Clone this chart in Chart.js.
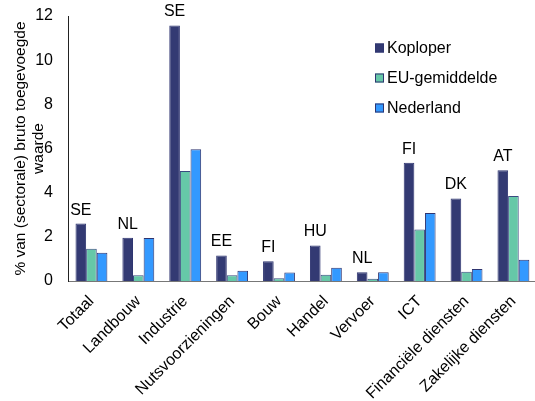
<!DOCTYPE html>
<html>
<head>
<meta charset="utf-8">
<script src="https://cdn.jsdelivr.net/npm/chart.js@4.4.1/dist/chart.umd.min.js"></script>
<style>
  html, body { margin: 0; padding: 0; background: #fff; overflow: hidden; }
  #wrap { width: 538px; height: 401px; }
</style>
</head>
<body>
<div id="wrap"><canvas id="chart" width="538" height="401"></canvas></div>
<script>
// sectors on the x axis
const categories = ["Totaal", "Landbouw", "Industrie", "Nutsvoorzieningen", "Bouw", "Handel", "Vervoer", "ICT", "Financiële diensten", "Zakelijke diensten"];
// country that leads each sector (label above the Koploper bar)
const leaders = ["SE", "NL", "SE", "EE", "FI", "HU", "NL", "FI", "DK", "AT"];

const koploper = [2.6, 1.96, 11.57, 1.16, 0.89, 1.61, 0.4, 5.35, 3.74, 5.02];
const euGemiddelde = [1.46, 0.26, 4.98, 0.26, 0.13, 0.28, 0.1, 2.33, 0.42, 3.85];
const nederland = [1.28, 1.95, 5.97, 0.46, 0.39, 0.6, 0.4, 3.08, 0.54, 0.96];

const yTicks = [0, 2, 4, 6, 8, 10, 12];

const FONT = "'Liberation Sans', Arial, sans-serif";

// country codes above the first bar of each group
const leaderLabels = {
  id: "leaderLabels",
  afterDatasetsDraw(chart) {
    const ctx = chart.ctx;
    const meta = chart.getDatasetMeta(0);
    ctx.save();
    ctx.font = "16px " + FONT;
    ctx.fillStyle = "#000";
    ctx.textAlign = "center";
    ctx.textBaseline = "alphabetic";
    meta.data.forEach((bar, i) => {
      ctx.fillText(leaders[i], bar.x, bar.y - 9);
    });
    ctx.restore();
  }
};

// legend inside the plot, top right
const boxLegend = {
  id: "boxLegend",
  afterDraw(chart) {
    const ctx = chart.ctx;
    ctx.save();
    ctx.font = "16px " + FONT;
    ctx.textBaseline = "middle";
    chart.data.datasets.forEach((ds, i) => {
      const y = 48 + i * 30;
      ctx.fillStyle = ds.backgroundColor;
      ctx.fillRect(375, y - 4.5, 9, 9);
      ctx.strokeStyle = "#2f3570";
      ctx.lineWidth = 1;
      ctx.strokeRect(375.5, y - 4, 8, 8);
      ctx.fillStyle = "#000";
      ctx.fillText(ds.label, 387, y + 1);
    });
    ctx.restore();
  }
};

new Chart(document.getElementById("chart"), {
  type: "bar",
  data: {
    labels: categories,
    datasets: [
      { label: "Koploper", data: koploper, backgroundColor: "#333a73", borderColor: "#2f3570", borderWidth: 1 },
      { label: "EU-gemiddelde", data: euGemiddelde, backgroundColor: "#66c8a8", borderColor: "#3a4a80", borderWidth: 1 },
      { label: "Nederland", data: nederland, backgroundColor: "#3399ff", borderColor: "#2f3570", borderWidth: 1 }
    ]
  },
  options: {
    responsive: false,
    animation: false,
    layout: { padding: { top: 16, right: 0, left: 0, bottom: 0 } },
    datasets: { bar: { categoryPercentage: 0.68, barPercentage: 1 } },
    plugins: { legend: { display: false }, tooltip: { enabled: false } },
    scales: {
      x: {
        grid: { display: false, drawTicks: false },
        border: { display: true, color: "#777", width: 1 },
        ticks: {
          color: "#000",
          font: { family: FONT, size: 16 },
          minRotation: 45,
          maxRotation: 45,
          autoSkip: false,
          padding: 11
        },
        afterFit(scale) { scale.height = 120; }
      },
      y: {
        min: 0,
        max: 12,
        grid: { display: false, drawTicks: false },
        border: { display: true, color: "#222", width: 1 },
        afterBuildTicks(scale) { scale.ticks = yTicks.map(v => ({ value: v })); },
        ticks: { color: "#000", font: { family: FONT, size: 16 }, padding: 15 },
        title: {
          display: true,
          text: ["% van (sectorale) bruto toegevoegde", "waarde"],
          color: "#000",
          font: { family: FONT, size: 15.5, lineHeight: 1.15 },
          padding: { top: 12, bottom: 0 }
        },
        afterFit(scale) {
          scale.width = 68;
          scale.paddingTop = 0;
          scale.paddingBottom = 0;
        }
      }
    }
  },
  plugins: [leaderLabels, boxLegend]
});
</script>
</body>
</html>
